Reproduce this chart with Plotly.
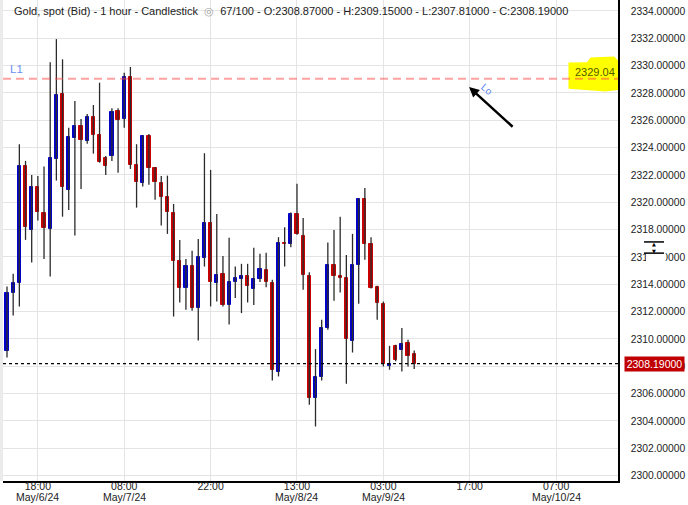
import plotly.graph_objects as go

# ---------------- data (1-hour bars, bar index 0 = 13:00 May/6/24) ----------------
opens = [2309.09, 2313.40, 2314.13, 2322.66, 2317.98, 2321.15, 2319.25, 2318.06, 2323.17, 2327.92,
         2320.91, 2324.73, 2325.58, 2324.51, 2326.22, 2324.93, 2323.27, 2323.39, 2326.70, 2326.10,
         2329.14, 2322.73, 2321.44, 2324.85, 2322.54, 2321.42, 2320.42, 2319.25, 2315.67, 2313.76,
         2315.35, 2312.30, 2315.96, 2318.49, 2314.13, 2314.77, 2312.45, 2314.20, 2314.40, 2314.62,
         2313.69, 2314.42, 2315.06, 2314.09, 2307.62, 2317.01, 2316.96, 2319.15, 2317.54, 2314.62,
         2305.65, 2307.24, 2310.82, 2315.42, 2314.62, 2314.47, 2309.87, 2315.42, 2320.25, 2316.96,
         2313.82, 2312.57, 2308.06, 2309.50, 2309.21, 2309.72, 2308.87]
highs = [2313.84, 2314.77, 2324.25, 2323.03, 2322.00, 2321.93, 2322.61, 2330.24, 2331.94, 2330.46,
         2325.46, 2327.41, 2326.10, 2326.46, 2327.12, 2328.75, 2323.39, 2326.88, 2326.88, 2329.48,
         2329.90, 2324.25, 2324.90, 2325.00, 2322.59, 2321.93, 2321.95, 2319.88, 2317.25, 2315.86,
         2316.45, 2317.32, 2323.59, 2322.37, 2319.15, 2316.08, 2317.40, 2315.30, 2315.50, 2315.50,
         2316.67, 2316.23, 2316.30, 2314.33, 2317.45, 2318.18, 2319.25, 2321.35, 2318.86, 2314.89,
         2309.26, 2311.40, 2317.05, 2317.98, 2318.95, 2316.15, 2317.69, 2320.30, 2321.05, 2317.45,
         2313.90, 2312.74, 2309.50, 2309.58, 2310.80, 2309.94, 2309.15]
lows = [2308.65, 2311.72, 2312.38, 2317.25, 2315.59, 2318.66, 2315.86, 2314.57, 2321.59, 2318.95,
        2319.44, 2317.57, 2320.98, 2324.29, 2323.56, 2322.90, 2322.00, 2323.03, 2322.17, 2325.46,
        2322.44, 2319.61, 2321.15, 2321.29, 2320.18, 2318.30, 2317.69, 2311.64, 2312.67, 2312.13,
        2312.06, 2309.89, 2315.30, 2312.38, 2312.74, 2312.38, 2311.06, 2312.99, 2311.89, 2312.67,
        2312.48, 2314.16, 2313.79, 2306.97, 2307.26, 2315.30, 2316.72, 2317.62, 2313.60, 2305.19,
        2303.60, 2306.97, 2310.67, 2312.79, 2313.40, 2306.73, 2309.01, 2312.57, 2315.79, 2313.69,
        2311.40, 2307.99, 2307.75, 2308.38, 2307.62, 2307.99, 2307.81]
closes = [2313.36, 2314.11, 2322.66, 2318.22, 2321.15, 2319.30, 2318.15, 2323.25, 2327.85, 2321.09,
          2324.76, 2325.58, 2324.56, 2326.22, 2324.95, 2322.98, 2322.68, 2326.63, 2326.02, 2329.14,
          2322.73, 2321.51, 2324.85, 2322.54, 2321.51, 2320.42, 2319.30, 2315.74, 2313.76, 2315.35,
          2312.30, 2315.99, 2318.49, 2314.20, 2314.69, 2312.45, 2314.18, 2314.47, 2314.62, 2313.91,
          2314.40, 2315.13, 2314.16, 2307.70, 2317.01, 2316.98, 2319.15, 2317.69, 2314.69, 2305.65,
          2307.21, 2310.82, 2315.42, 2314.62, 2314.47, 2310.01, 2315.42, 2320.25, 2316.96, 2313.74,
          2312.65, 2308.19, 2308.14, 2308.48, 2309.65, 2308.77, 2308.19]

# x-axis labels (bar index of each label, time line, date line)
tick_bars = [5, 19, 33, 47, 61, 75, 89]
tick_times = ["18:00", "08:00", "22:00", "13:00", "03:00", "17:00", "07:00"]
tick_dates = ["May/6/24", "May/7/24", "", "May/8/24", "May/9/24", "", "May/10/24"]

L1_LEVEL = 2329.04
VISIBLE_BARS = 100

# ---------------- styling ----------------
BLUE = "#0000c8"
RED = "#c80000"
WICK = "#2b2b2b"
GRID = "#e4e4e4"
FONT = "Liberation Sans, Arial, sans-serif"

n = len(opens)
idx = list(range(n))
up = [c >= o for o, c in zip(opens, closes)]
body_col = [BLUE if u else RED for u in up]
body_base = [min(o, c) for o, c in zip(opens, closes)]
body_h = [abs(c - o) for o, c in zip(opens, closes)]

wx, wy = [], []
for i in idx:
    wx += [i, i, None]
    wy += [lows[i], highs[i], None]

fig = go.Figure()
fig.add_trace(go.Scatter(x=wx, y=wy, mode="lines", line=dict(color=WICK, width=1.3),
                         hoverinfo="skip", showlegend=False))
fig.add_trace(go.Bar(x=idx, y=body_h, base=body_base, width=0.52,
                     marker=dict(color=body_col, line=dict(color=body_col, width=1)),
                     hoverinfo="skip", showlegend=False))

last = closes[-1]

fig.update_layout(
    width=688, height=505,
    margin=dict(l=3, r=70, t=0, b=24),
    paper_bgcolor="white", plot_bgcolor="white",
    font=dict(family=FONT, size=10.5, color="#222222"),
    showlegend=False, hovermode=False, bargap=0,
    xaxis=dict(range=[-0.65, 99.03], tickmode="array", tickvals=tick_bars, ticktext=tick_times,
               showgrid=True, gridcolor=GRID, gridwidth=1, zeroline=False,
               showline=True, linecolor="black", linewidth=1.5, ticks="",
               tickfont=dict(family=FONT, size=10.5, color="#222222"), ticklabelstandoff=-5),
    yaxis=dict(range=[2299.61, 2334.80], side="right", tick0=2300, dtick=2, tickformat=".5f",
               showgrid=True, gridcolor=GRID, gridwidth=1, zeroline=False,
               showline=True, linecolor="black", linewidth=1.5, ticks="",
               tickfont=dict(family=FONT, size=10.3, color="#222222"), ticklabelstandoff=9),
)

shapes = []
# light strip on left edge
shapes.append(dict(type="rect", xref="paper", yref="paper", x0=-0.006, x1=0, y0=0, y1=1,
                   fillcolor="#ebebeb", line=dict(width=0), layer="below"))
# yellow highlighter blob around L1 price
shapes.append(dict(type="path", xref="x", yref="y",
                   path="M 91.0 2330.22 L 94.0 2330.25 L 94.6 2330.60 L 98.4 2330.66 L 99.4 2330.2 "
                        "L 99.5 2328.25 L 97.0 2328.10 L 91.0 2328.30 Z",
                   fillcolor="#ffff00", line=dict(width=0), layer="above"))
# L1 horizontal line
shapes.append(dict(type="line", xref="paper", yref="y", x0=0, x1=1, y0=L1_LEVEL, y1=L1_LEVEL,
                   line=dict(color="rgba(255,70,70,0.5)", width=2, dash="8px,5px"), layer="above"))
# current price line
shapes.append(dict(type="line", xref="paper", yref="y", x0=0, x1=1, y0=last, y1=last,
                   line=dict(color="black", width=1.2, dash="3px,3px"), layer="above"))
# scale-toggle icon on the price axis: white patch + two bars
shapes.append(dict(type="rect", xref="paper", yref="y", x0=1.0455, x1=1.0775, y0=2315.25, y1=2317.25,
                   fillcolor="white", line=dict(width=0), layer="above"))
shapes.append(dict(type="line", xref="paper", yref="y", x0=1.0423, x1=1.0748, y0=2317.10, y1=2317.10,
                   line=dict(color="black", width=1.5), layer="above"))
shapes.append(dict(type="line", xref="paper", yref="y", x0=1.0423, x1=1.0748, y0=2316.28, y1=2316.28,
                   line=dict(color="black", width=1.5), layer="above"))
fig.update_layout(shapes=shapes)

ann = []
header = (f"Gold, spot (Bid) - 1 hour - Candlestick  <span style='color:#a0a0a0'>◎</span>  "
          f"{n}/{VISIBLE_BARS} - O:{opens[-1]:.5f} - H:{highs[-1]:.5f} - L:{lows[-1]:.5f} - C:{closes[-1]:.5f}")
ann.append(dict(text=header, xref="paper", yref="paper", x=0, y=1, xanchor="left", yanchor="top",
                xshift=9, yshift=-3, showarrow=False, font=dict(family=FONT, size=11, color="#222222")))
for b, d in zip(tick_bars, tick_dates):
    if d:
        ann.append(dict(text=d, xref="x", yref="paper", x=b, y=0, xanchor="center", yanchor="top",
                        yshift=-8, showarrow=False, font=dict(family=FONT, size=10.5, color="#222222")))
ann.append(dict(text="L1", xref="paper", yref="y", x=0, y=L1_LEVEL, xanchor="left", yanchor="bottom",
                xshift=5, yshift=2, showarrow=False, font=dict(family=FONT, size=11.5, color="#6a8ef0")))
ann.append(dict(text=f"{L1_LEVEL:.2f}", xref="x", yref="y", x=95.3, y=L1_LEVEL, xanchor="center",
                yanchor="bottom", yshift=-1, showarrow=False, font=dict(family=FONT, size=11, color="#4f5a00")))
ann.append(dict(text="", xref="x", yref="y", x=74.9, y=2328.43, ax=45, ay=41, showarrow=True,
                arrowhead=2, arrowsize=0.8, arrowwidth=2.5, arrowcolor="black", standoff=0))
ann.append(dict(text="Lo", xref="x", yref="y", x=77.8, y=2328.25, textangle=40, showarrow=False,
                font=dict(family=FONT, size=10, color="#5a7ff0")))
ann.append(dict(text=f"{last:.5f}", xref="paper", yref="y", x=1, y=last, xanchor="left", yanchor="middle",
                xshift=6, showarrow=False, bgcolor="#c00000", borderpad=1, width=57,
                font=dict(family=FONT, size=10.5, color="white")))
ann.append(dict(text="▲<br>▼", xref="paper", yref="y", x=1.0585, y=2316.69, xanchor="center",
                yanchor="middle", showarrow=False, borderpad=0,
                font=dict(family="DejaVu Sans, sans-serif", size=5, color="black")))
fig.update_layout(annotations=ann)

fig.write_html("out.html", config={"displayModeBar": False},
               post_script="document.body.style.margin='0px';document.body.style.overflow='hidden';")
